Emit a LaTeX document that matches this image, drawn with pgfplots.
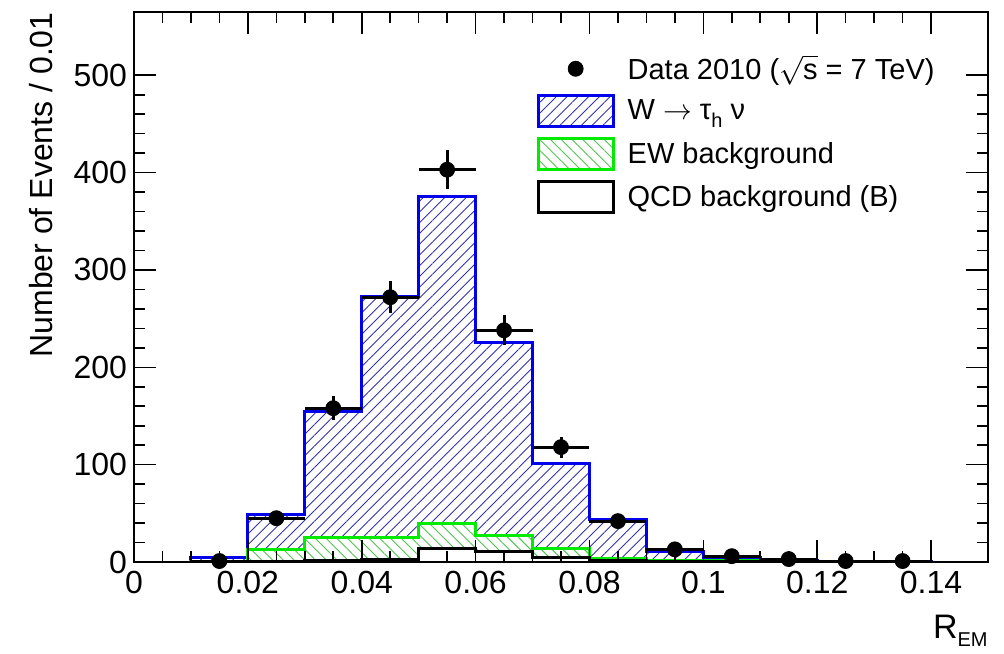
\documentclass[border=0pt]{standalone}
\usepackage{fontspec}
\setmainfont{Liberation Sans}
\usepackage{pgfplots}
\pgfplotsset{compat=1.18}
\usepackage{pgfplotstable}
\usetikzlibrary{patterns.meta}

\definecolor{rootblue}{RGB}{0,0,235}
\definecolor{hatchblue}{RGB}{50,50,170}
\definecolor{rootgreen}{RGB}{0,235,0}
\definecolor{hatchgreen}{RGB}{80,195,80}

\pgfplotstableread{
x w ew qcd
0.01 5 1 0
0.02 49 13 0.5
0.03 155 25 2
0.04 273 25 3
0.05 375 40 14
0.06 226 27 11
0.07 101 14 5
0.08 44 4 2
0.09 11 2 1
0.10 5 2 0.5
0.11 1.5 0 0
0.12 0.5 0 0
0.13 0.5 0 0
0.14 0.5 0 0
}\hist

\pgfplotstableread{
x y ey
0.015 1 1
0.025 45 6.7
0.035 158 12.6
0.045 272 16.5
0.055 403 20.1
0.065 238 15.4
0.075 118 10.9
0.085 42 6.5
0.095 13 3.6
0.105 6 2.4
0.115 3 1.7
0.125 1 1
0.135 1 1
}\data

\begin{document}
\begin{tikzpicture}
\begin{axis}[
  scale only axis, width=427pt, height=275pt,
  xmin=0, xmax=0.15, ymin=0, ymax=565,
  axis on top,
  axis line style={line width=1pt},
  tick style={line width=0.8pt, black},
  tick align=inside,
  major tick length=11pt, minor tick length=5.5pt,
  xtick={0,0.02,0.04,0.06,0.08,0.1,0.12,0.14},
  xticklabels={0,0.02,0.04,0.06,0.08,0.1,0.12,0.14},
  ytick={0,100,200,300,400,500},
  yticklabels={0,100,200,300,400,500},
  minor x tick num=3, minor y tick num=4,
  tick label style={font=\fontsize{16}{16}\selectfont},
  xticklabel style={yshift=-1pt},
  xlabel={R\raisebox{-0.45ex}{\fontsize{10}{10}\selectfont EM}},
  xlabel style={at={(axis description cs:1,0)}, anchor=north east, inner sep=0pt, yshift=-26.5pt, font=\fontsize{17}{17}\selectfont},
  ylabel={Number of Events / 0.01},
  ylabel style={at={(axis description cs:-0.0948,1)}, anchor=south east, inner sep=0pt, font=\fontsize{16}{16}\selectfont},
  legend style={draw=none, fill=none, at={(axis description cs:0.464,0.935)}, anchor=north west,
    font=\fontsize{14.5}{16}\selectfont, row sep=4.5pt, nodes={inner sep=1.5pt},
    /tikz/every odd column/.append style={column sep=5pt}},
  legend cell align=left,
]
\addlegendimage{legend image code/.code={\fill[black] (18.75pt,0pt) circle (3.75pt); \path[draw=none, fill=none] (0pt,-7.75pt) rectangle (37.5pt,7.75pt);}}
\addlegendentry{Data 2010 ($\sqrt{\mbox{s}}$ = 7 TeV)}
\addlegendimage{legend image code/.code={\draw[draw=rootblue, line width=1.5pt, pattern={Lines[angle=45,distance=3.8pt,line width=0.45pt]}, pattern color=hatchblue] (0pt,-7.75pt) rectangle (37.5pt,7.75pt);}}
\addlegendentry{W $\rightarrow$ τ\raisebox{-0.5ex}{\fontsize{10}{10}\selectfont h} ν}
\addlegendimage{legend image code/.code={\draw[draw=rootgreen, line width=1.5pt, pattern={Lines[angle=-45,distance=3.8pt,line width=0.45pt]}, pattern color=hatchgreen] (0pt,-7.75pt) rectangle (37.5pt,7.75pt);}}
\addlegendentry{EW background}
\addlegendimage{legend image code/.code={\draw[draw=black, line width=1.5pt, fill=white] (0pt,-7.75pt) rectangle (37.5pt,7.75pt);}}
\addlegendentry{QCD background (B)}

\addplot[const plot, forget plot, draw=rootblue, line width=1.5pt,
  pattern={Lines[angle=45,distance=3.8pt,line width=0.45pt]}, pattern color=hatchblue]
  table[x=x, y=w] {\hist} \closedcycle;
\addplot[const plot, forget plot, draw=rootgreen, line width=1.5pt, preaction={fill=white},
  pattern={Lines[angle=-45,distance=3.8pt,line width=0.45pt]}, pattern color=hatchgreen]
  table[x=x, y=ew] {\hist} \closedcycle;
\addplot[const plot, forget plot, draw=black, line width=1.5pt, fill=white]
  table[x=x, y=qcd] {\hist} \closedcycle;

\addplot[forget plot, only marks, mark=*, mark size=3.75pt, black,
  error bars/.cd, x dir=both, x fixed=0.005, y dir=both, y explicit,
  error bar style={line width=1.5pt, black}, error mark=none]
  table[x=x, y=y, y error=ey] {\data};
\end{axis}
\pgfresetboundingbox
\path[use as bounding box] ([shift={(-67pt,-45.5pt)}]current axis.south west) rectangle ([shift={(8pt,6pt)}]current axis.north east);
\end{tikzpicture}
\end{document}
